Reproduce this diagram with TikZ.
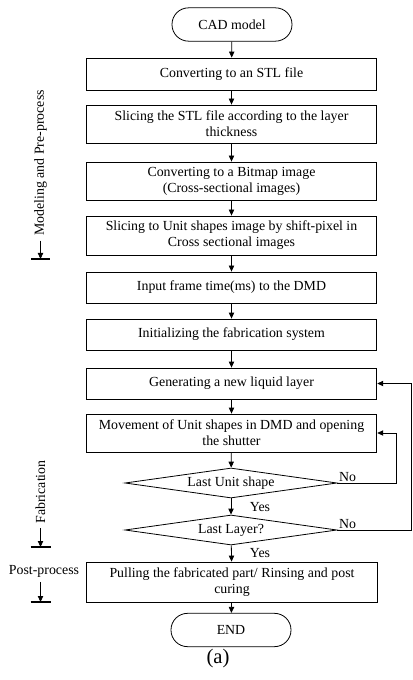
\documentclass[tikz,border=0pt]{standalone}
\usepackage{fontspec}
\setmainfont{Liberation Serif}
\usetikzlibrary{shapes.geometric,arrows.meta}

\begin{document}
\begin{tikzpicture}[x=.75pt, y=-.75pt, font=\fontsize{10.4}{12}\selectfont, line width=.6pt,
  procbox/.style={draw, rectangle, minimum width=218pt, align=center, inner sep=1pt},
  termbox/.style={draw, rectangle, rounded corners=12.4pt, minimum width=90pt, minimum height=25pt},
  decbox/.style={draw, diamond, aspect=7, inner sep=0pt, minimum width=159pt, minimum height=22.5pt},
  flow/.style={-{Triangle[length=4.5pt,width=4pt]}},
  phasebar/.style={line width=2.2pt}]
\useasboundingbox (0,0) rectangle (412,680);

% main flow
\node[termbox] (cad) at (232,24.5) {CAD model};
\node[procbox, minimum height=24pt] (stl) at (231.5,74) {Converting to an STL file};
\node[procbox, minimum height=28.5pt] (slice) at (231.5,124) {Slicing the STL file according to the layer\\thickness};
\node[procbox, minimum height=28.5pt] (bitmap) at (231.5,181) {Converting to a Bitmap image\\(Cross-sectional images)};
\node[procbox, minimum height=29.25pt] (unit) at (231.5,235.5) {Slicing to Unit shapes image by shift-pixel in\\Cross sectional images};
\node[procbox, minimum height=23.25pt] (frame) at (231.5,287.5) {Input frame time(ms) to the DMD};
\node[procbox, minimum height=23.25pt] (init) at (231.5,334.5) {Initializing the fabrication system};
\node[procbox, minimum height=23.25pt] (layer) at (231.5,383.5) {Generating a new liquid layer};
\node[procbox, minimum height=28.5pt] (move) at (231.5,433) {Movement of Unit shapes in DMD and opening\\the shutter};
\node[decbox] (lastunit) at (231,483) {Last Unit shape};
\node[decbox] (lastlayer) at (231,530) {Last Layer?};
\node[procbox, minimum height=30pt] (pull) at (232,582) {Pulling the fabricated part/ Rinsing and post\\curing};
\node[termbox] (end) at (231,630) {END};

\draw[flow] (cad) -- (stl);
\draw[flow] (stl) -- (slice);
\draw[flow] (slice) -- (bitmap);
\draw[flow] (bitmap) -- (unit);
\draw[flow] (unit) -- (frame);
\draw[flow] (frame) -- (init);
\draw[flow] (init) -- (layer);
\draw[flow] (layer) -- (move);
\draw[flow] (move) -- (lastunit);
\draw[flow] (lastunit) -- (lastlayer);
\draw[flow] (lastlayer) -- (pull);
\draw[flow] (pull) -- (end);

% loops back
\draw[flow] (lastunit.east) -- (396,483) |- (move.east);
\draw[flow] (lastlayer.east) -- (411.6,530) |- (layer.east);
\node[anchor=south west, inner sep=1pt] (no1) at (lastunit.east) {No};
\node[anchor=south west, inner sep=1pt] (no2) at (lastlayer.east) {No};
\node (yes1) at (260,507) {Yes};
\node (yes2) at (260,553) {Yes};

% phases
\node[rotate=90] (modlbl) at (40.5,163) {Modeling and Pre-process};
\coordinate (modbar) at (40.5,259);
\draw[flow] (modlbl.west) -- (modbar);
\draw[phasebar] (modbar) ++(-9.5,0) -- ++(19,0);

\node[rotate=90] (fablbl) at (40.5,492) {Fabrication};
\coordinate (fabbar) at (40.5,547);
\draw[flow] (fablbl.west) -- (fabbar);
\draw[phasebar] (fabbar) ++(-10,0) -- ++(20,0);

\node (postlbl) at (44,571) {Post-process};
\coordinate (postbar) at (40.5,602);
\draw[flow] (postlbl.south -| postbar) -- (postbar);
\draw[phasebar] (postbar) ++(-10,0) -- ++(20,0);

\node[font=\fontsize{15.5}{18}\selectfont] (cap) at (218,659) {(a)};
\end{tikzpicture}
\end{document}
